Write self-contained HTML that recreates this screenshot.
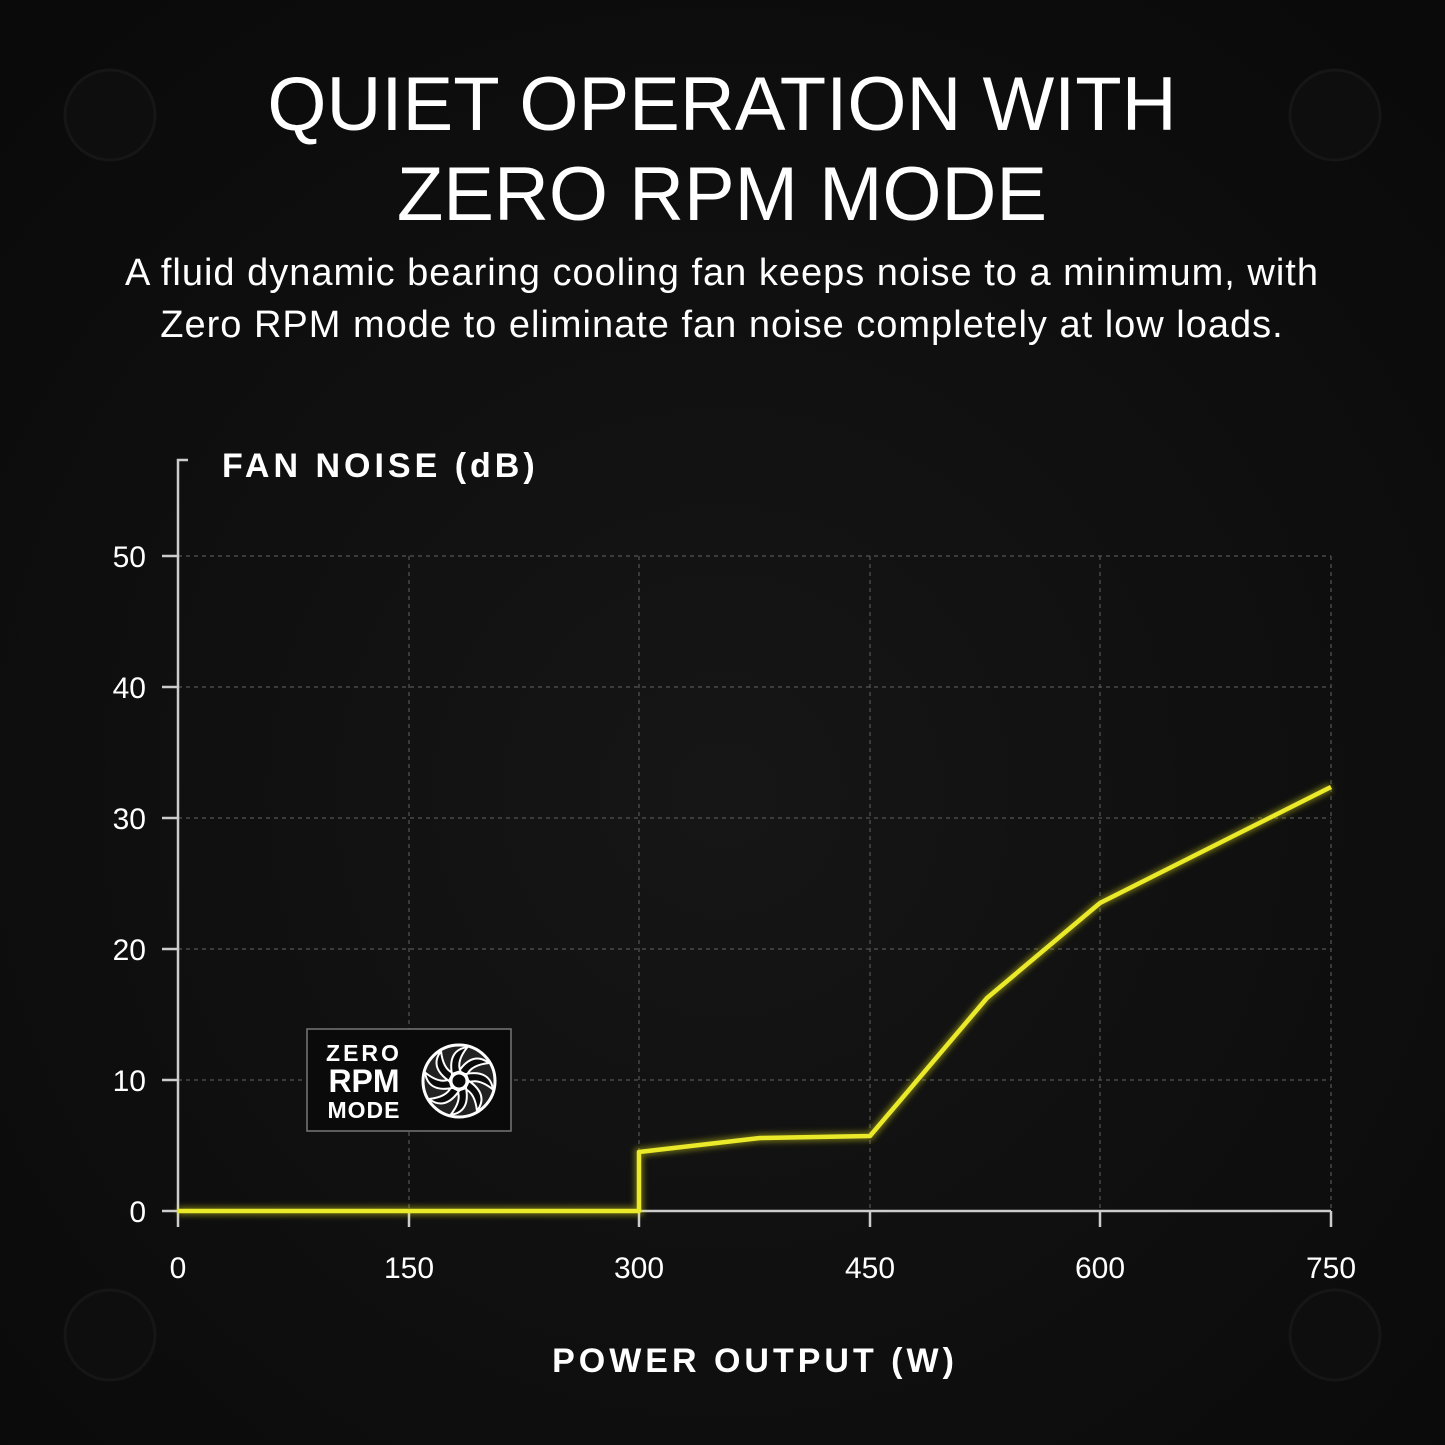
<!DOCTYPE html>
<html><head><style>
html,body{margin:0;padding:0;background:#0a0a0a;}
svg{display:block;}
text{font-family:"Liberation Sans","DejaVu Sans",sans-serif;fill:#fff;}
</style></head><body>
<svg width="1445" height="1445" viewBox="0 0 1445 1445" xmlns="http://www.w3.org/2000/svg">
<defs>
<radialGradient id="bg" cx="50%" cy="55%" r="70%">
<stop offset="0" stop-color="#161616"/><stop offset="1" stop-color="#0a0a0a"/>
</radialGradient>
<filter id="glow"><feGaussianBlur stdDeviation="3"/></filter>
</defs>
<rect width="1445" height="1445" fill="url(#bg)"/>
<g fill="#0e0e0e" stroke="#161616" stroke-width="3">
<circle cx="110" cy="115" r="45"/><circle cx="1335" cy="115" r="45"/>
<circle cx="110" cy="1335" r="45"/><circle cx="1335" cy="1335" r="45"/>
</g>
<text x="722" y="130" font-size="76" text-anchor="middle">QUIET OPERATION WITH</text>
<text x="722" y="220" font-size="76" text-anchor="middle">ZERO RPM MODE</text>
<text x="722" y="285" font-size="38" text-anchor="middle" letter-spacing="1">A fluid dynamic bearing cooling fan keeps noise to a minimum, with</text>
<text x="722" y="337" font-size="38" text-anchor="middle" letter-spacing="1">Zero RPM mode to eliminate fan noise completely at low loads.</text>
<text x="222" y="477" font-size="34" font-weight="bold" letter-spacing="4">FAN NOISE (dB)</text>
<text x="755" y="1372" font-size="34" font-weight="bold" letter-spacing="4" text-anchor="middle">POWER OUTPUT (W)</text>
<g stroke="#555" stroke-width="1.2" stroke-dasharray="4 4">
<line x1="178" y1="556" x2="1331" y2="556"/><line x1="178" y1="687" x2="1331" y2="687"/>
<line x1="178" y1="818" x2="1331" y2="818"/><line x1="178" y1="949" x2="1331" y2="949"/>
<line x1="178" y1="1080" x2="1331" y2="1080"/>
<line x1="409" y1="556" x2="409" y2="1211"/><line x1="639" y1="556" x2="639" y2="1211"/>
<line x1="870" y1="556" x2="870" y2="1211"/><line x1="1100" y1="556" x2="1100" y2="1211"/>
<line x1="1331" y1="556" x2="1331" y2="1211"/>
</g>
<g stroke="#ccc" stroke-width="2.5" fill="none">
<path d="M188 460 H178 V1211 H1331"/>
<line x1="162" y1="556" x2="178" y2="556"/><line x1="162" y1="687" x2="178" y2="687"/>
<line x1="162" y1="818" x2="178" y2="818"/><line x1="162" y1="949" x2="178" y2="949"/>
<line x1="162" y1="1080" x2="178" y2="1080"/><line x1="162" y1="1211" x2="178" y2="1211"/>
<line x1="178" y1="1211" x2="178" y2="1227"/><line x1="409" y1="1211" x2="409" y2="1227"/>
<line x1="639" y1="1211" x2="639" y2="1227"/><line x1="870" y1="1211" x2="870" y2="1227"/>
<line x1="1100" y1="1211" x2="1100" y2="1227"/><line x1="1331" y1="1211" x2="1331" y2="1227"/>
</g>
<g font-size="30" text-anchor="end">
<text x="146" y="567">50</text><text x="146" y="698">40</text><text x="146" y="829">30</text>
<text x="146" y="960">20</text><text x="146" y="1091">10</text><text x="146" y="1222">0</text>
</g>
<g font-size="30" text-anchor="middle">
<text x="178" y="1278">0</text><text x="409" y="1278">150</text><text x="639" y="1278">300</text>
<text x="870" y="1278">450</text><text x="1100" y="1278">600</text><text x="1331" y="1278">750</text>
</g>
<path d="M178 1211 H639 V1152 L760 1138 L870 1136 L987 998 L1100 903 L1331 787" fill="none" stroke="#e8e81a" stroke-width="9" opacity="0.4" filter="url(#glow)"/>
<path d="M178 1211 H639 V1152 L760 1138 L870 1136 L987 998 L1100 903 L1331 787" fill="none" stroke="#eaea2a" stroke-width="4.5" stroke-linejoin="round"/>
<rect x="307" y="1029" width="204" height="102" fill="#0a0a0a" stroke="#777" stroke-width="1.5"/>
<text x="364" y="1061" font-size="23" font-weight="bold" text-anchor="middle" letter-spacing="3">ZERO</text>
<text x="364" y="1092" font-size="32" font-weight="bold" text-anchor="middle">RPM</text>
<text x="364" y="1118" font-size="23" font-weight="bold" text-anchor="middle" letter-spacing="1">MODE</text>
<g transform="translate(459 1081)">
<circle r="36" fill="#222" stroke="#fff" stroke-width="3"/>
<g fill="#0a0a0a" stroke="#fff" stroke-width="2">
<path d="M0 -10 Q14 -30 30 -18 Q12 -16 8 -6 Z"/>
<path d="M0 -10 Q14 -30 30 -18 Q12 -16 8 -6 Z" transform="rotate(45)"/>
<path d="M0 -10 Q14 -30 30 -18 Q12 -16 8 -6 Z" transform="rotate(90)"/>
<path d="M0 -10 Q14 -30 30 -18 Q12 -16 8 -6 Z" transform="rotate(135)"/>
<path d="M0 -10 Q14 -30 30 -18 Q12 -16 8 -6 Z" transform="rotate(180)"/>
<path d="M0 -10 Q14 -30 30 -18 Q12 -16 8 -6 Z" transform="rotate(225)"/>
<path d="M0 -10 Q14 -30 30 -18 Q12 -16 8 -6 Z" transform="rotate(270)"/>
<path d="M0 -10 Q14 -30 30 -18 Q12 -16 8 -6 Z" transform="rotate(315)"/>
</g>
<circle r="8" fill="#0a0a0a" stroke="#fff" stroke-width="3"/>
</g>
</svg>
</body></html>
